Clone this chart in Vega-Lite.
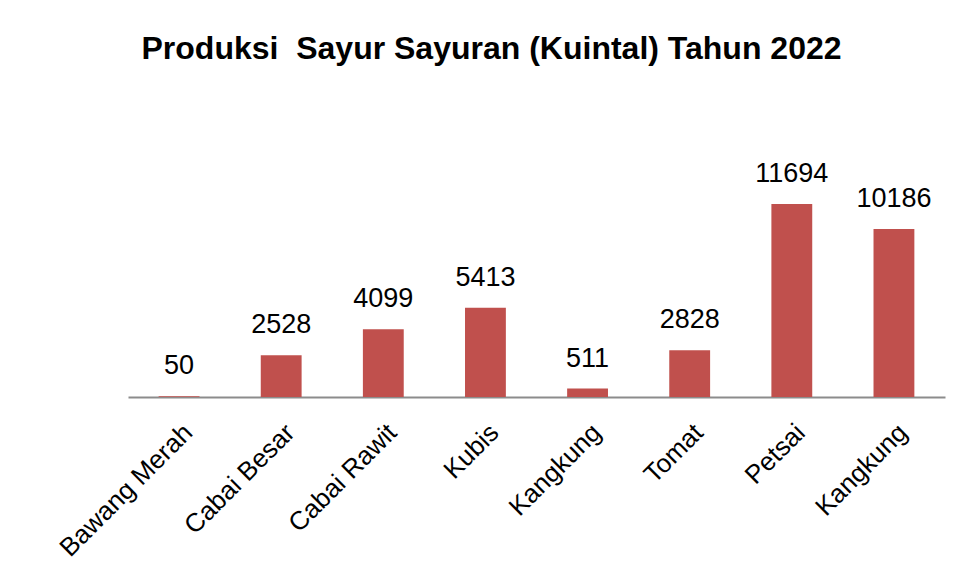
{
  "$schema": "https://vega.github.io/schema/vega-lite/v6.json",
  "autosize": {"type": "none"},
  "padding": {"left": 128, "top": 166, "right": 18, "bottom": 188},
  "width": 817,
  "height": 231,
  "background": "white",
  "title": {
    "text": "Produksi\u00a0 Sayur Sayuran (Kuintal) Tahun 2022",
    "font": "Liberation Sans",
    "fontSize": 32,
    "fontWeight": "bold",
    "color": "black",
    "anchor": "middle",
    "dx": -45,
    "offset": 94
  },
  "config": {"view": {"stroke": null}},
  "data": {
    "values": [
      {"komoditas": "Bawang Merah", "produksi": 50},
      {"komoditas": "Cabai Besar", "produksi": 2528},
      {"komoditas": "Cabai Rawit", "produksi": 4099},
      {"komoditas": "Kubis", "produksi": 5413},
      {"komoditas": "Kangkung", "produksi": 511},
      {"komoditas": "Tomat", "produksi": 2828},
      {"komoditas": "Petsai", "produksi": 11694},
      {"komoditas": "Kangkung ", "produksi": 10186}
    ]
  },
  "encoding": {
    "x": {
      "field": "komoditas",
      "type": "nominal",
      "sort": null,
      "scale": {"paddingInner": 0.6, "paddingOuter": 0.3},
      "axis": {
        "title": null,
        "labelAngle": -45,
        "labelAlign": "right",
        "labelBaseline": "top",
        "labelFont": "Liberation Sans",
        "labelFontSize": 26,
        "labelColor": "black",
        "labelPadding": 22,
        "labelDx": 4,
        "ticks": false,
        "domainColor": "#8c8c8c",
        "domainWidth": 2,
        "labelOverlap": false,
        "labelLimit": 400
      }
    },
    "y": {
      "field": "produksi",
      "type": "quantitative",
      "scale": {"domain": [0, 14000], "nice": false},
      "axis": null
    }
  },
  "layer": [
    {"mark": {"type": "bar", "color": "#C0504D"}},
    {
      "mark": {
        "type": "text",
        "baseline": "alphabetic",
        "dy": -22,
        "font": "Liberation Sans",
        "fontSize": 27,
        "color": "black"
      },
      "encoding": {"text": {"field": "produksi", "type": "quantitative", "format": "d"}}
    }
  ]
}
